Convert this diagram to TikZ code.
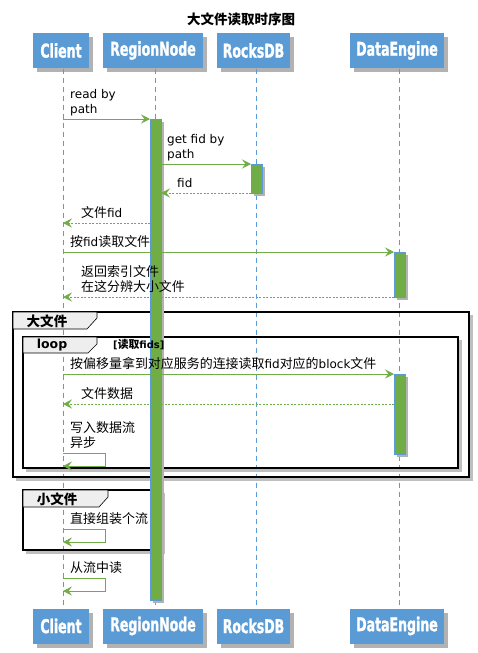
\documentclass[tikz,border=0pt]{standalone}
\usepackage{fontspec}
\usetikzlibrary{arrows.meta}
\setmainfont{DejaVu Sans}
\newfontfamily\cjkfont[Scale=1.08]{Noto Sans CJK SC}
\newfontfamily\partfont[FakeStretch=0.66,FakeBold=1.2]{DejaVu Sans Bold}
\newcommand{\zh}[1]{{\cjkfont #1}}
\definecolor{partblue}{RGB}{91,155,213}
\definecolor{actgreen}{RGB}{112,173,71}
\definecolor{tabgray}{RGB}{238,238,238}
\tikzset{
  part/.style={fill=partblue, minimum width=#1, minimum height=35pt, inner sep=0pt,
    font=\partfont\fontsize{19}{19}\selectfont, text=white},
  life/.style={draw=partblue, dash pattern=on 5pt off 4pt, line width=0.7pt},
  msg/.style={draw=actgreen, line width=0.8pt, -{Stealth[length=9pt,width=9pt,inset=3.5pt]}},
  ret/.style={msg, dash pattern=on 2pt off 1.5pt},
  lbl/.style={anchor=south west, inner sep=0pt, align=left,
    font=\fontsize{12}{15}\selectfont, execute at end node=\strut},
  act/.style={fill=actgreen, draw=partblue, line width=0.8pt},
  shade/.style={fill=black!30},
  fbox/.style={draw=black, line width=1.5pt},
  fshade/.style={draw=black!25, line width=3pt},
  tab/.style={draw=black, fill=tabgray, line width=0.6pt},
  tablbl/.style={inner sep=0pt, font=\bfseries\fontsize{12.5}{14}\selectfont},
}
% participant box with shadow: name, x, y, width, text
\newcommand{\partbox}[5]{%
  \fill[shade] (#2-#4/2+4,#3-17.5+4) rectangle ++(#4,35);
  \node[part=#4pt] (#1) at (#2,#3) {#5};}
% activation bar with shadow: top, bottom, x
\newcommand{\actbar}[3]{%
  \fill[shade] (#3-5+3,#1+3) rectangle (#3+6+3,#2+3);
  \draw[act] (#3-5,#1) rectangle (#3+6,#2);}
\begin{document}
\begin{tikzpicture}[x=1pt,y=-1pt]
\useasboundingbox (0,0) rectangle (478,653);
\fill[white] (0,0) rectangle (478,653);
\node[font=\cjkfont\bfseries\fontsize{12.5}{14}\selectfont] (title) at (241,19) {大文件读取时序图};

% participants
\partbox{cliTop}{61}{50.5}{56}{Client}
\partbox{regTop}{153}{50.5}{100}{RegionNode}
\partbox{rdbTop}{253.5}{50.5}{73}{RocksDB}
\partbox{deTop}{397}{50.5}{94}{DataEngine}
\partbox{cliBot}{61}{626}{56}{Client}
\partbox{regBot}{153}{626}{100}{RegionNode}
\partbox{rdbBot}{253.5}{626}{73}{RocksDB}
\partbox{deBot}{397}{626}{94}{DataEngine}

% lifelines
\foreach \nm/\x in {cli/63,reg/155,rdb/256,de/399}{
  \draw[life] (\x,68.5) -- (\x,608.5);
}

% frames
\draw[fshade] (471.5,315) -- (471.5,479.5) -- (16,479.5);
\draw[fbox] (13,312) rectangle (469,477);
\draw[tab] (13,312) -- (97,312) -- (97,318) -- (87,329) -- (13,329) -- cycle;
\node[tablbl] (bigLbl) at (47,321) {\zh{大文件}};
\draw[fshade] (460.5,340) -- (460.5,470.5) -- (26,470.5);
\draw[fbox] (23,337) rectangle (458,468);
\draw[tab] (23,337) -- (97,337) -- (97,344) -- (88,353) -- (23,353) -- cycle;
\node[tablbl] (loopLbl) at (52,345) {loop};
\draw[fshade] (163.5,493) -- (163.5,552.5) -- (26,552.5);
\draw[fbox] (23,490) rectangle (161,550);
\draw[tab] (23,490) -- (108,490) -- (108,497) -- (99,507) -- (23,507) -- cycle;
\node[tablbl] (smallLbl) at (57,499) {\zh{小文件}};

% activations
\actbar{119}{600}{155}
\actbar{164}{193}{256}
\actbar{252}{297}{399}
\actbar{374}{454}{399}

\node[inner sep=0pt, anchor=west, font=\bfseries\fontsize{10}{11}\selectfont] (guard) at (113,345) {[\zh{读取}fids]};

% messages
\coordinate (m1a) at (63,119);  \coordinate (m1b) at (150,119);
\coordinate (m2a) at (161,164); \coordinate (m2b) at (251,164);
\coordinate (m3a) at (251,193); \coordinate (m3b) at (161,193);
\coordinate (m4a) at (150,223); \coordinate (m4b) at (63,223);
\coordinate (m5a) at (63,252);  \coordinate (m5b) at (394,252);
\coordinate (m6a) at (394,297); \coordinate (m6b) at (63,297);
\coordinate (m7a) at (63,374);  \coordinate (m7b) at (394,374);
\coordinate (m8a) at (394,404); \coordinate (m8b) at (63,404);
\coordinate (s1a) at (63,453);  \coordinate (s1b) at (63,466);
\coordinate (s2a) at (63,529);  \coordinate (s2b) at (63,542);
\coordinate (s3a) at (63,578);  \coordinate (s3b) at (63,591);

\draw[msg] (m1a) -- (m1b);
\node[lbl] (t1) at (70,118) {read by\\path};
\draw[msg] (m2a) -- (m2b);
\node[lbl] (t2) at (167,163) {get fid by\\path};
\draw[ret] (m3a) -- (m3b);
\node[lbl] (t3) at (177,192) {fid};
\draw[ret] (m4a) -- (m4b);
\node[lbl] (t4) at (81,222) {\zh{文件}fid};
\draw[msg] (m5a) -- (m5b);
\node[lbl] (t5) at (70,251) {\zh{按}fid\zh{读取文件}};
\draw[ret] (m6a) -- (m6b);
\node[lbl] (t6) at (81,296) {\zh{返回索引文件}\\\zh{在这分辨大小文件}};
\draw[msg] (m7a) -- (m7b);
\node[lbl] (t7) at (70,373) {\zh{按偏移量拿到对应服务的连接读取}fid\zh{对应的}block\zh{文件}};
\draw[ret] (m8a) -- (m8b);
\node[lbl] (t8) at (81,403) {\zh{文件数据}};
\draw[msg] (s1a) -- ++(42,0) |- (s1b);
\node[lbl] (t9) at (70,452) {\zh{写入数据流}\\\zh{异步}};
\draw[msg] (s2a) -- ++(42,0) |- (s2b);
\node[lbl] (t10) at (70,528) {\zh{直接组装个流}};
\draw[msg] (s3a) -- ++(42,0) |- (s3b);
\node[lbl] (t11) at (70,577) {\zh{从流中读}};
\end{tikzpicture}
\end{document}
